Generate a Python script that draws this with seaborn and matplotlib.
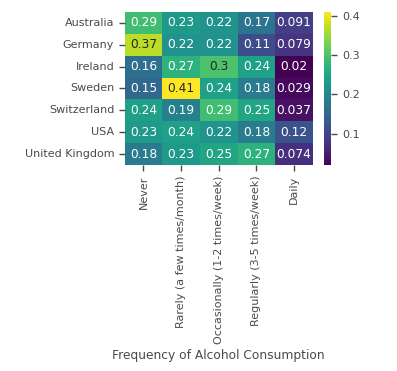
import matplotlib
matplotlib.use("Agg")
import matplotlib.pyplot as plt
import pandas as pd
import seaborn as sns

countries = ["Australia", "Germany", "Ireland", "Sweden", "Switzerland", "USA", "United Kingdom"]
frequencies = [
    "Never",
    "Rarely (a few times/month)",
    "Occasionally (1-2 times/week)",
    "Regularly (3-5 times/week)",
    "Daily",
]

never = [0.29, 0.37, 0.16, 0.15, 0.24, 0.23, 0.18]
rarely = [0.23, 0.22, 0.27, 0.41, 0.19, 0.24, 0.23]
occasionally = [0.22, 0.22, 0.30, 0.24, 0.29, 0.22, 0.25]
regularly = [0.17, 0.11, 0.24, 0.18, 0.25, 0.18, 0.27]
daily = [0.091, 0.079, 0.02, 0.029, 0.037, 0.12, 0.074]

df = pd.DataFrame(
    {
        frequencies[0]: never,
        frequencies[1]: rarely,
        frequencies[2]: occasionally,
        frequencies[3]: regularly,
        frequencies[4]: daily,
    },
    index=countries,
)

grey = "#4a4a4a"
plt.rcParams.update({
    "font.size": 8.8,
    "text.color": grey,
    "axes.labelcolor": grey,
    "xtick.color": grey,
    "ytick.color": grey,
})

fig = plt.figure(figsize=(3.97, 3.71), dpi=100)
ax = fig.add_axes([0.314, 0.555, 0.474, 0.413])
cax = fig.add_axes([0.816, 0.555, 0.019, 0.413])

sns.heatmap(df, annot=True, cmap="viridis", ax=ax, cbar_ax=cax,
            annot_kws={"fontsize": 8.8})

ax.set_xlabel("Frequency of Alcohol Consumption", fontsize=8.8)
ax.set_ylabel("")
ax.tick_params(axis="both", length=4, width=1, labelsize=8)
cax.tick_params(length=4, width=1, labelsize=8)
cax.set_yticks([0.1, 0.2, 0.3, 0.4])
plt.setp(ax.get_xticklabels(), rotation=90)
plt.setp(ax.get_yticklabels(), rotation=0)

fig.savefig("out.png", dpi=100)
